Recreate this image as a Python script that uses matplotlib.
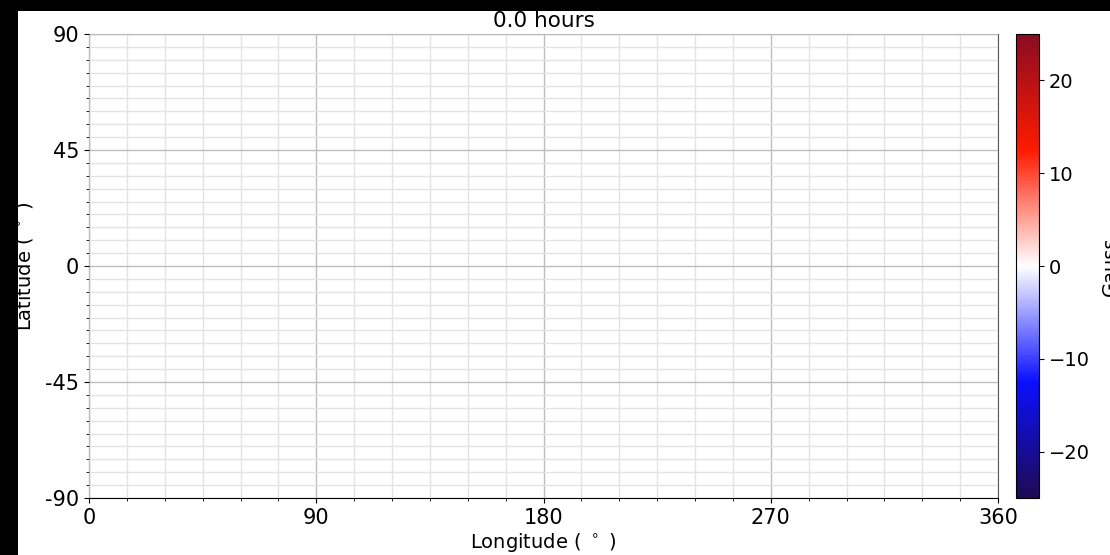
import numpy as np
import matplotlib
matplotlib.use('Agg')
import matplotlib.pyplot as plt
from matplotlib.colors import LinearSegmentedColormap
from matplotlib.patches import Rectangle
from matplotlib.ticker import MultipleLocator

# magnetogram at t = 0 (field is flat zero everywhere)
hours = 0.0
lon_edges = np.linspace(0, 360, 73)
lat_edges = np.linspace(-90, 90, 37)
br = np.zeros((36, 72))

lon_ticks = [0, 90, 180, 270, 360]
lon_labels = ['0', '90', '180', '270', '360']
lat_ticks = [-90, -45, 0, 45, 90]
lat_labels = ['-90', '-45', '0', '45', '90']
cb_ticks = [-20, -10, 0, 10, 20]
vmax = 25

# diverging map, odd N so that zero lands exactly on white
bwr_dark = LinearSegmentedColormap.from_list(
    'bwr_dark',
    [(0.0, '#1f0a52'), (0.25, '#0a10ff'), (0.5, '#ffffff'),
     (0.75, '#ff1a00'), (1.0, '#8a0c22')], N=257)

fig = plt.figure(figsize=(11.1, 5.55), dpi=100, facecolor='black')
# white page area over the dark backdrop
fig.patches.append(Rectangle((18 / 1110, 0), 1 - 18 / 1110, 1 - 11 / 555,
                             transform=fig.transFigure, facecolor='white',
                             edgecolor='none', zorder=-10))

ax = fig.add_axes([89 / 1110, 1 - 498 / 555, 909 / 1110, 464 / 555])
cax = fig.add_axes([1016 / 1110, 1 - 498 / 555, 23 / 1110, 464 / 555])

mesh = ax.pcolormesh(lon_edges, lat_edges, br, cmap=bwr_dark,
                     vmin=-vmax, vmax=vmax, shading='flat')
ax.set_xlim(0, 360)
ax.set_ylim(-90, 90)

ax.set_xticks(lon_ticks)
ax.set_xticklabels(lon_labels)
ax.set_yticks(lat_ticks)
ax.set_yticklabels(lat_labels)
ax.xaxis.set_minor_locator(MultipleLocator(15))
ax.yaxis.set_minor_locator(MultipleLocator(5))
ax.tick_params(labelsize=15)

ax.set_axisbelow(False)
ax.grid(which='major', color='0.74', lw=1.0)
ax.grid(which='minor', color='0.89', lw=1.0)
ax.spines['top'].set_color('0.45')
ax.spines['right'].set_color('0.35')

ax.set_xlabel(r'Longitude ( $^\circ$ )', fontsize=14, labelpad=2)
ax.set_ylabel(r'Latitude ( $^\circ$ )', fontsize=14)
ax.yaxis.set_label_coords(-0.059, 0.5)
ax.set_title('%.1f hours' % hours, fontsize=15.5, pad=5)

cbar = fig.colorbar(mesh, cax=cax, ticks=cb_ticks)
cbar.ax.tick_params(labelsize=14)
cbar.set_label('Gauss', fontsize=14, labelpad=8)

fig.savefig('out.png', dpi=100, facecolor=fig.get_facecolor())
